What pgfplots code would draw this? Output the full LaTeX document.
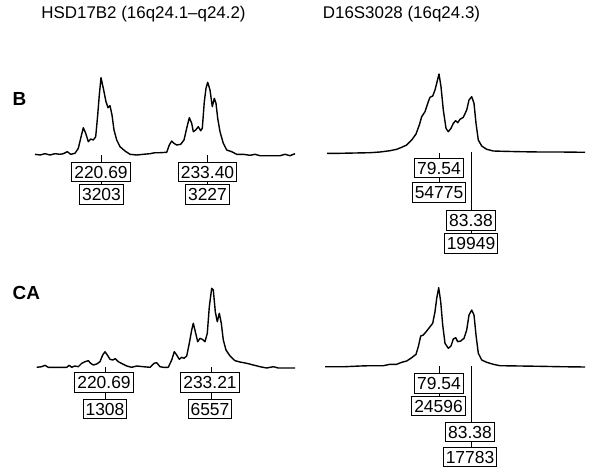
\documentclass[border=0pt]{standalone}
\usepackage{pgfplots}
\pgfplotsset{compat=1.18}
\usepackage{fontspec}
\setmainfont{Liberation Sans}
\tikzset{lbl/.style={draw=black, line width=1bp, fill=white, font=\fontsize{17.5}{17.5}\selectfont,
  inner xsep=2.5bp, inner ysep=3.4bp, text height=12.6bp, text depth=0bp},
  conn/.style={black, line width=0.9bp}}
\begin{document}
\begin{tikzpicture}
\begin{axis}[
  anchor=south west, at={(0,0)},
  width=589bp, height=473bp, scale only axis,
  xmin=0, xmax=589, ymin=0, ymax=473, y dir=reverse,
  hide axis, clip=false,
]
% B, HSD17B2
\addplot[black, line width=1.4bp, line join=round] coordinates {
(35,154.3)(40,155)(45,153.7)(50,155)(55,153.7)(60,154.3)(63.3,153.7)(67.3,151.7)(70.7,154.3)(75,153.3)(78.3,148.3)(80.7,138.3)(83.3,127.7)(85.7,133.3)(88.3,141.7)(90.7,139)(93.3,140)(95.7,136.7)(97.7,115)(99.3,95)(101,77.7)(103.3,88.3)(106,101.7)(108,107.7)(110,105.7)(112,115)(114,130)(116.7,140)(120,146.7)(125,151)(130,154.3)(136.7,155)(143.3,154.3)(150,153.7)(155,152.7)(160,152.7)(166.7,152.3)(169.3,145)(171.7,141)(174,143.3)(176.7,145)(180.7,144.3)(184,140)(186.7,128.3)(189.3,117.7)(191.7,123.3)(193.3,131.7)(195.7,130)(198.3,126.7)(200.7,130.7)(202.3,128.3)(204.3,101.7)(206,88.3)(207.7,82.3)(210,90)(212.3,106.7)(214.3,98.3)(216,103.3)(217.7,118.3)(220,131.7)(223.3,143.3)(226.7,150)(231.7,151.7)(236.7,154.3)(243.3,154.3)(250,155.3)(255,154.3)(260,155.7)(270,155.7)(280,155.7)(285,154.3)(290,155.7)(295,153.7)
};
% B, D16S3028
\addplot[black, line width=1.4bp, line join=round] coordinates {
(327,153.3)(340,153.3)(355,153)(370,152.7)(380,152)(390,150.7)(396.7,149.3)(401.7,147.3)(406.7,145)(411.7,140)(416,134)(419.3,125)(421.7,116.7)(425,111.7)(428.3,101.7)(430,97.3)(432.7,96)(435,90)(436.7,83.3)(439,74)(441,86.7)(443.3,110)(446,128.3)(448.3,131.7)(451,128.3)(453.3,123.3)(455.7,120.7)(457.7,122.7)(460,119.3)(463.3,117.3)(466.7,110)(469,100)(471.7,96.7)(474,103.3)(476,123.3)(478.3,140)(481.7,146)(486.7,149.3)(493.3,151)(503.3,151.3)(520,151.7)(540,152)(560,152)(585,152.3)
};
% CA, HSD17B2
\addplot[black, line width=1.4bp, line join=round] coordinates {
(36.7,367.3)(41.7,366.7)(45,365.3)(48.3,367.3)(56.7,367.3)(66.7,367.3)(69.3,365.3)(71.7,367.3)(75,366)(78.3,366.7)(81.7,363.3)(85,361.7)(88.3,360.7)(90.7,363.3)(93.3,365)(96.7,364)(100,361.7)(102.7,355)(105,351.7)(107.3,355)(110,359.3)(112.7,360)(115.3,358.7)(118.3,361.7)(122.7,364)(126.7,366)(131.7,367.3)(136.7,366)(143.3,366.7)(150,367.3)(154,363.3)(156.7,362.7)(160,366.7)(163.3,367.3)(168.3,367.3)(171.7,360)(174.3,351.7)(176.7,355)(179.3,359.3)(181.7,357.3)(184,358.3)(186.7,356)(189.3,343.3)(191.7,330)(193.3,323.3)(195.7,333.3)(197.7,341.7)(200,338.3)(202.3,339.3)(205,341.7)(207.3,333.3)(209.3,306.7)(211.7,288.3)(213.3,290)(215.3,311.7)(217.3,321.7)(219.3,313.3)(221.3,323.3)(223.3,340)(226,350)(230,356)(235,360.7)(240,362)(246.7,363.3)(253.3,365)(260,366.7)(266.7,368)(273.3,366.7)(278.3,368)(286.7,368)(295,368)
};
% CA, D16S3028
\addplot[black, line width=1.4bp, line join=round] coordinates {
(325,366.7)(345,366.7)(360,366)(370,365.7)(383.3,365.7)(390,364.3)(396.7,364.3)(401.7,362.3)(406.7,361)(411.7,357.7)(416,354.3)(418.3,346.7)(420.7,336)(423.3,335)(426.7,331)(430,326.7)(432.7,323.3)(435,311.7)(436.7,298.3)(438.7,287.7)(440.7,301.7)(442.7,325)(445,343.3)(448.3,348.3)(451,346)(453.3,339)(455.7,337.7)(457.7,341.7)(460.7,341)(464,338.3)(466.7,330)(469,315)(471.7,310)(474,315)(476,335)(478.3,353.3)(481.7,360)(486.7,362.3)(493.3,364.3)(500,365.7)(520,366)(540,366.3)(560,366.7)(585,367)
};
% connectors
\draw[conn] (axis cs:101.5,155) -- (axis cs:101.5,194.5);
\draw[conn] (axis cs:207.5,155) -- (axis cs:207.5,194.5);
\draw[conn] (axis cs:439,153) -- (axis cs:439,192.5);
\draw[conn] (axis cs:471.5,152) -- (axis cs:471.5,243.5);
\draw[conn] (axis cs:105,367) -- (axis cs:105,409);
\draw[conn] (axis cs:211,367) -- (axis cs:211,409);
\draw[conn] (axis cs:439,366) -- (axis cs:439,406.2);
\draw[conn] (axis cs:471,366) -- (axis cs:471,456.7);
% labels
\node[lbl] at (axis cs:101,172) {220.69};
\node[lbl] at (axis cs:101.5,194.5) {3203};
\node[lbl] at (axis cs:207.5,172) {233.40};
\node[lbl] at (axis cs:207.5,194.5) {3227};
\node[lbl] at (axis cs:439,168) {79.54};
\node[lbl] at (axis cs:439,192.5) {54775};
\node[lbl] at (axis cs:471,220.5) {83.38};
\node[lbl] at (axis cs:471,243.5) {19949};
\node[lbl] at (axis cs:104,382.5) {220.69};
\node[lbl] at (axis cs:105,409) {1308};
\node[lbl] at (axis cs:210,382.5) {233.21};
\node[lbl] at (axis cs:210,409) {6557};
\node[lbl] at (axis cs:439,383.3) {79.54};
\node[lbl] at (axis cs:438.5,406.2) {24596};
\node[lbl] at (axis cs:470,432.2) {83.38};
\node[lbl] at (axis cs:470,456.7) {17783};
% titles and panel labels
\node[font=\fontsize{17}{17}\selectfont] at (axis cs:143.5,14) {HSD17B2 (16q24.1–q24.2)};
\node[font=\fontsize{17}{17}\selectfont] at (axis cs:401.5,14) {D16S3028 (16q24.3)};
\node[font=\bfseries\fontsize{19}{19}\selectfont, anchor=west, inner sep=0pt] at (axis cs:12.5,98.5) {B};
\node[font=\bfseries\fontsize{19}{19}\selectfont, anchor=west, inner sep=0pt] at (axis cs:12.5,293) {CA};
\end{axis}
\useasboundingbox (0,0) rectangle (589bp,473bp);
\end{tikzpicture}
\end{document}
